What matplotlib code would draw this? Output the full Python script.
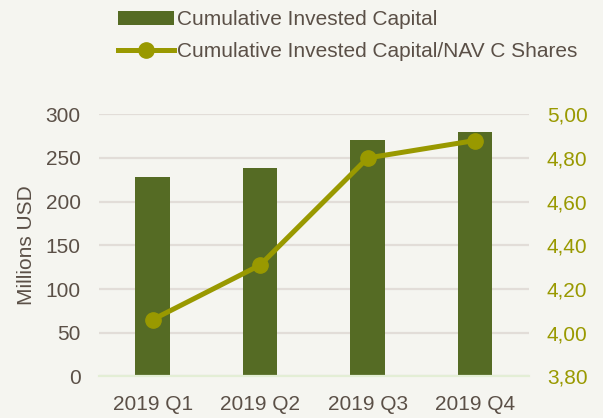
import matplotlib.pyplot as plt

# data
quarters = ['2019 Q1', '2019 Q2', '2019 Q3', '2019 Q4']
invested_capital = [228, 239, 271, 280]
capital_nav_c = [4.06, 4.31, 4.80, 4.88]

bg = '#f5f5f0'
bar_col = '#556b24'
line_col = '#999900'
text_col = '#5b5047'
grid_col = '#e2ddd8'

plt.rcParams['font.family'] = ['Liberation Sans', 'DejaVu Sans']

fig = plt.figure(figsize=(6.03, 4.18), dpi=100, facecolor=bg)
ax = fig.add_axes([0.164, 0.0993, 0.713, 0.6273])
ax.set_facecolor(bg)

x = range(len(quarters))
bars = ax.bar(x, invested_capital, width=0.32, color=bar_col, zorder=2,
              label='Cumulative Invested Capital')
ax.set_ylim(0, 300)
ax.set_xlim(-0.5, 3.5)
ax.set_yticks(range(0, 301, 50))
ax.yaxis.grid(True, color=grid_col, linewidth=1.6, zorder=0)
ax.set_axisbelow(True)
for s in ['top', 'right', 'left']:
    ax.spines[s].set_visible(False)
ax.spines['bottom'].set_color('#e3eed5')
ax.spines['bottom'].set_linewidth(1.6)
ax.tick_params(length=0, labelsize=15, colors=text_col, pad=13)
ax.set_xticks(list(x))
ax.set_xticklabels(quarters)
ax.set_ylabel('Millions USD', fontsize=15, color=text_col, labelpad=7)

ax2 = ax.twinx()
line, = ax2.plot(x, capital_nav_c, color=line_col, linewidth=3.6, marker='o',
                 markersize=11, zorder=3,
                 label='Cumulative Invested Capital/NAV C Shares')
ax2.set_ylim(3.8, 5.0)
ax2.set_yticks([3.8, 4.0, 4.2, 4.4, 4.6, 4.8, 5.0])
ax2.set_yticklabels([f'{v:.2f}'.replace('.', ',') for v in ax2.get_yticks()])
for s in ax2.spines.values():
    s.set_visible(False)
ax2.tick_params(length=0, labelsize=15, colors=line_col, pad=13)

fig.legend([bars, line], [bars.get_label(), line.get_label()],
           loc='upper left', bbox_to_anchor=(0.179, 1.0), frameon=False,
           fontsize=15, labelcolor=text_col, handlelength=2.65,
           handletextpad=0.15, labelspacing=0.6, borderpad=0)

fig.savefig('out.png', dpi=100, facecolor=bg)
